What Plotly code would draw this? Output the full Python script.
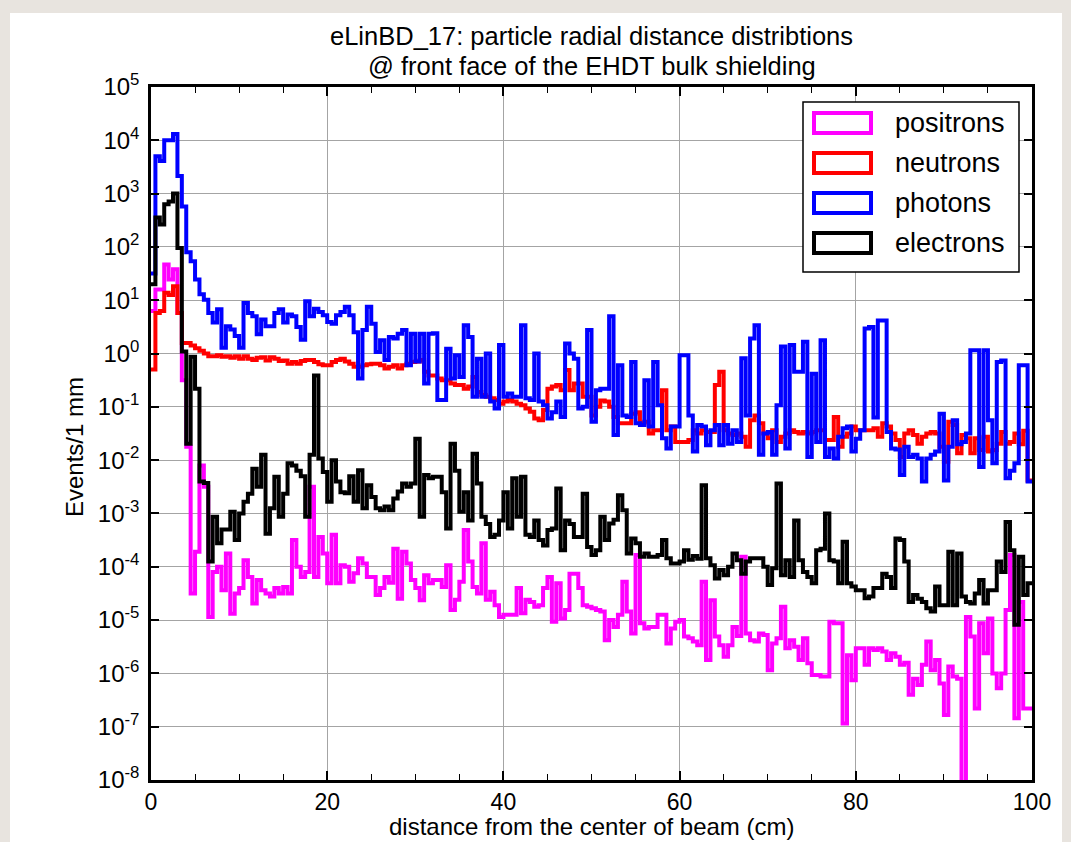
import numpy as np
import plotly.graph_objects as go

# ---------------- data (log10 of Events/1 mm, 0.5 cm bins from 0 to 100 cm) ----------------
bin_width_cm = 0.5
n_bins = 200

photons_log10 = [
    1.50, 3.70, 3.61, 4.00, 4.00, 4.12, 3.33, 2.76, 1.90, 1.73,
    1.39, 1.11, 1.01, 0.76, 0.58, 0.83, 0.11, 0.51, 0.45, 0.33,
    0.11, 0.95, 0.76, 0.70, 0.36, 0.64, 0.51, 0.51, 0.76, 0.83,
    0.58, 0.73, 0.70, 0.50, 0.26, 0.98, 0.70, 0.84, 0.78, 0.72,
    0.59, 0.56, 0.72, 0.78, 0.88, 0.72, 0.40, -0.47, 0.44, 0.88,
    0.56, 0.03, 0.25, -0.12, 0.31, 0.28, 0.37, 0.44, -0.22, 0.37,
    -0.15, 0.37, -0.56, 0.37, 0.38, -0.87, -0.87, 0.09, -0.47, -0.03,
    -0.44, 0.53, 0.31, -0.81, -0.10, -0.81, 0.00, -0.90, -1.03, 0.16,
    -0.81, -0.75, -0.81, -0.81, 0.53, -0.84, -0.87, 0.00, -0.90, -0.97,
    -1.22, -1.10, -0.90, -1.19, 0.19, 0.00, -0.10, -1.03, -1.00, 0.44,
    -1.28, -0.69, -0.66, -0.66, 0.70, -1.53, -0.22, -1.16, -1.19, -0.16,
    -1.31, -1.34, -0.50, -1.37, -0.16, -0.97, -1.59, -1.78, -1.37, -1.37,
    -0.03, -0.03, -1.16, -1.84, -1.34, -1.37, -1.72, -1.44, -1.34, -1.72,
    -1.34, -1.69, -1.44, -1.66, -0.09, -1.16, 0.28, 0.53, -1.90, -1.50,
    -1.47, -1.90, -0.97, 0.13, -1.78, 0.16, -0.34, -0.34, 0.22, -1.94,
    -0.38, -1.66, 0.25, -1.94, -1.78, -1.97, -1.56, -1.40, -1.37, -1.84,
    -1.60, -1.44, 0.47, 0.50, -1.20, 0.62, 0.62, -1.47, -1.78, -1.80,
    -2.28, -1.75, -1.94, -1.90, -1.97, -2.40, -1.97, -1.90, -1.84, -1.13,
    -2.38, -1.75, -1.25, -1.70, -1.66, -1.50, 0.06, 0.06, -2.13, 0.06,
    -1.25, -2.06, -0.16, -0.13, -2.34, -2.20, -2.06, -0.22, -0.22, -2.40,
]

neutrons_log10 = [
    -0.30, 0.76, 0.80, 1.14, 1.10, 1.26, 0.76, 0.20, 0.20, 0.15,
    0.10, 0.05, 0.00, -0.05, -0.05, -0.03, -0.06, -0.05, -0.08, -0.05,
    -0.10, -0.05, -0.10, -0.12, -0.08, -0.07, -0.13, -0.07, -0.10, -0.14,
    -0.13, -0.19, -0.16, -0.19, -0.14, -0.12, -0.12, -0.16, -0.20, -0.22,
    -0.22, -0.16, -0.12, -0.10, -0.15, -0.19, -0.25, -0.25, -0.22, -0.20,
    -0.19, -0.19, -0.22, -0.28, -0.25, -0.22, -0.28, -0.22, -0.19, -0.16,
    -0.15, -0.12, -0.34, -0.41, -0.41, -0.47, -0.50, -0.50, -0.56, -0.59,
    -0.59, -0.66, -0.62, -0.44, -0.72, -0.78, -0.81, -0.84, -0.87, -0.94,
    -0.90, -0.87, -0.90, -0.94, -0.97, -1.03, -1.09, -1.22, -1.25, -1.06,
    -0.66, -0.62, -0.59, -0.69, -0.31, -0.69, -0.56, -0.56, -0.81, -0.81,
    -1.16, -1.00, -0.88, -0.90, -1.00, -1.19, -1.31, -1.31, -1.31, -1.13,
    -1.10, -1.31, -1.28, -1.50, -1.44, -1.44, -0.69, -1.44, -1.37, -1.66,
    -1.66, -1.66, -1.62, -1.44, -1.50, -1.44, -1.47, -1.47, -0.59, -0.34,
    -1.44, -1.50, -1.53, -1.50, -1.56, -1.75, -1.25, -1.16, -1.31, -1.50,
    -1.59, -1.44, -1.66, -1.56, -1.50, -1.44, -1.47, -1.50, -1.47, -1.50,
    -1.47, -1.44, -1.44, -1.62, -1.62, -1.19, -1.75, -1.56, -1.50, -1.37,
    -1.44, -1.44, -1.44, -1.44, -1.40, -1.56, -1.31, -1.37, -1.50, -1.62,
    -1.94, -1.50, -1.44, -1.53, -1.69, -1.56, -1.50, -1.47, -1.50, -1.75,
    -2.03, -1.28, -1.34, -1.87, -1.53, -1.59, -1.87, -1.59, -1.81, -1.56,
    -1.84, -1.81, -1.69, -1.47, -1.69, -1.66, -1.50, -1.70, -1.45, -2.38,
]

electrons_log10 = [
    1.30, 2.55, 2.42, 2.80, 2.85, 3.00, 1.98, 0.04, -1.69, -0.06,
    -0.66, -2.40, -2.43, -3.90, -3.06, -3.56, -3.30, -3.30, -2.97, -3.50,
    -3.00, -2.78, -2.63, -2.16, -2.50, -1.90, -3.38, -2.90, -2.31, -3.06,
    -2.63, -2.06, -2.10, -2.20, -2.30, -3.06, -1.90, -0.41, -1.97, -2.22,
    -2.78, -2.00, -2.40, -2.60, -2.62, -2.30, -2.78, -2.19, -2.90, -2.47,
    -2.69, -2.90, -2.94, -2.87, -2.94, -2.72, -2.59, -2.44, -2.50, -2.44,
    -1.60, -3.06, -2.28, -2.34, -2.31, -2.31, -2.60, -3.28, -1.69, -2.20,
    -2.97, -2.60, -3.13, -1.88, -2.44, -3.06, -3.20, -3.44, -3.40, -3.13,
    -2.60, -3.28, -2.34, -3.06, -2.31, -3.40, -3.44, -3.13, -3.50, -3.60,
    -3.31, -3.28, -2.53, -3.69, -3.13, -3.20, -3.44, -3.44, -2.63, -3.63,
    -3.78, -3.69, -3.06, -3.50, -3.19, -3.12, -2.66, -2.94, -3.75, -3.47,
    -3.56, -3.81, -3.75, -3.81, -3.81, -3.78, -3.50, -3.84, -3.94, -3.94,
    -3.90, -3.69, -3.87, -3.80, -3.85, -2.47, -3.84, -3.97, -4.22, -4.06,
    -4.16, -4.00, -3.75, -3.88, -4.13, -3.90, -3.84, -3.84, -3.84, -4.00,
    -4.34, -4.03, -2.44, -4.16, -3.88, -4.19, -3.13, -3.88, -4.10, -4.19,
    -4.31, -3.69, -3.66, -3.00, -3.88, -3.90, -4.31, -3.53, -4.31, -4.37,
    -4.44, -4.44, -4.59, -4.56, -4.40, -4.40, -4.13, -4.19, -4.40, -3.47,
    -3.50, -3.90, -4.66, -4.53, -4.60, -4.66, -4.78, -4.84, -4.37, -4.72,
    -4.72, -3.72, -4.72, -3.75, -4.56, -4.66, -4.69, -4.50, -4.25, -4.69,
    -4.44, -4.44, -3.90, -4.10, -3.16, -3.69, -5.09, -3.81, -4.53, -4.31,
]

positrons_log10 = [
    0.80, 1.20, 1.20, 1.67, 1.39, 1.58, 0.76, -0.50, -1.75, -4.50,
    -3.72, -2.10, -2.50, -4.94, -4.10, -4.00, -4.44, -3.75, -4.88, -4.50,
    -4.40, -3.88, -4.19, -4.69, -4.25, -4.44, -4.50, -4.56, -4.40, -4.50,
    -4.38, -4.50, -3.50, -4.00, -4.19, -4.10, -2.50, -4.19, -3.44, -3.75,
    -4.31, -3.40, -4.31, -3.97, -4.00, -4.28, -4.12, -3.84, -3.94, -4.19,
    -4.19, -4.53, -4.40, -4.19, -4.30, -3.66, -4.60, -3.72, -3.94, -4.25,
    -4.40, -4.63, -4.16, -4.31, -4.25, -4.25, -4.38, -3.97, -4.81, -4.62,
    -4.28, -3.31, -3.90, -4.38, -4.50, -3.56, -4.62, -4.47, -4.72, -4.94,
    -4.90, -4.90, -4.90, -4.40, -4.87, -4.62, -4.66, -4.75, -4.72, -4.40,
    -4.19, -5.03, -4.31, -4.97, -4.81, -4.13, -4.13, -4.40, -4.72, -4.75,
    -4.78, -4.81, -4.84, -5.38, -5.00, -5.13, -4.90, -4.28, -4.84, -5.25,
    -3.78, -5.06, -5.16, -5.13, -5.13, -4.90, -4.90, -5.44, -5.16, -5.03,
    -5.00, -5.31, -5.34, -5.40, -5.47, -4.28, -5.75, -4.63, -5.31, -5.47,
    -5.69, -5.47, -5.13, -5.30, -3.81, -5.25, -5.38, -5.40, -5.25, -5.28,
    -5.94, -5.44, -5.34, -4.75, -5.53, -5.38, -5.50, -5.75, -5.34, -5.81,
    -6.03, -6.03, -6.06, -6.06, -5.03, -5.06, -5.06, -6.94, -5.66, -6.13,
    -5.53, -5.53, -5.84, -5.53, -5.56, -5.53, -5.59, -5.75, -5.62, -5.69,
    -5.84, -5.80, -6.40, -6.10, -6.22, -5.84, -5.40, -5.94, -5.75, -6.19,
    -6.78, -5.87, -6.06, -6.10, -9.00, -4.94, -5.31, -6.66, -5.06, -5.62,
    -4.97, -6.00, -6.28, -6.00, -4.81, -3.78, -6.84, -4.66, -6.66, -6.66,
]

series_names = ["positrons", "neutrons", "photons", "electrons"]
series_colors = ["#ff00ff", "#ff0000", "#0000ff", "#000000"]
series_data = [positrons_log10, neutrons_log10, photons_log10, electrons_log10]

x_tick_vals = [0, 20, 40, 60, 80, 100]
y_exponents = list(range(-8, 6))

title_lines = ["eLinBD_17: particle radial distance distribtions",
               "@ front face of the EHDT bulk shielding"]
x_title = "distance from the center of beam (cm)"
y_title = "Events/1 mm"

# ---------------- figure ----------------
W, H = 1071, 842
ML, MR, MT, MB = 151, 39, 87, 62
PW, PH = W - ML - MR, H - MT - MB
FONT = "Liberation Sans, Arial, Helvetica, sans-serif"


def px_x(p):
    return (p - ML) / PW


def px_y(p):
    return (H - MB - p) / PH


for d in series_data:
    assert len(d) == n_bins

edges = np.arange(n_bins + 1) * bin_width_cm

fig = go.Figure()
for name, color, logs in zip(series_names, series_colors, series_data):
    vals = 10.0 ** np.asarray(logs, dtype=float)
    yv = np.append(vals, vals[-1])
    fig.add_trace(go.Scatter(
        x=edges, y=yv, mode="lines", name=name,
        line=dict(color=color, width=4, shape="hv"),
        showlegend=False, hoverinfo="skip",
    ))
# empty trace on the top x axis so its ticks are drawn
fig.add_trace(go.Scatter(x=[], y=[], xaxis="x2", yaxis="y", showlegend=False, hoverinfo="skip"))

shapes = []
# white panel over beige page background
shapes.append(dict(type="rect", xref="paper", yref="paper", layer="below",
                   x0=px_x(10), x1=px_x(1062), y0=px_y(850), y1=px_y(13),
                   fillcolor="white", line=dict(width=0)))
# legend box
shapes.append(dict(type="rect", xref="paper", yref="paper", layer="above",
                   x0=px_x(803), x1=px_x(1019), y0=px_y(272), y1=px_y(102),
                   fillcolor="white", line=dict(color="black", width=1.5)))
annotations = []
legend_rows = [123, 163, 203, 243]
for name, color, yc in zip(series_names, series_colors, legend_rows):
    shapes.append(dict(type="rect", xref="paper", yref="paper", layer="above",
                       x0=px_x(814), x1=px_x(871), y0=px_y(yc + 10), y1=px_y(yc - 10),
                       fillcolor="white", line=dict(color=color, width=4)))
    annotations.append(dict(xref="paper", yref="paper", x=px_x(893), y=px_y(yc),
                            text=name, showarrow=False, xanchor="left", yanchor="middle",
                            font=dict(family=FONT, size=27, color="black")))

for line_text, yc in zip(title_lines, [36.5, 66.0]):
    annotations.append(dict(xref="paper", yref="paper", x=0.5, y=px_y(yc),
                            text=line_text, showarrow=False, xanchor="center", yanchor="middle",
                            font=dict(family=FONT, size=25.5, color="black")))

annotations.append(dict(xref="paper", yref="paper", x=0.5, y=px_y(826),
                        text=x_title, showarrow=False, xanchor="center", yanchor="middle",
                        font=dict(family=FONT, size=24, color="black")))
annotations.append(dict(xref="paper", yref="paper", x=px_x(75), y=px_y(447),
                        text=y_title, showarrow=False, textangle=-90,
                        xanchor="center", yanchor="middle",
                        font=dict(family=FONT, size=24, color="black")))

fig.update_layout(
    width=W, height=H,
    margin=dict(l=ML, r=MR, t=MT, b=MB, pad=0),
    paper_bgcolor="#e8e4df",
    plot_bgcolor="white",
    font=dict(family=FONT, size=20, color="black"),
    shapes=shapes,
    annotations=annotations,
    showlegend=False,
)

fig.update_layout(
    xaxis=dict(
        range=[0, 100], tickvals=x_tick_vals, ticktext=[str(v) for v in x_tick_vals],
        ticks="inside", ticklen=9, tickwidth=1.5, tickcolor="black",
        showgrid=True, gridcolor="#a4a4a4", gridwidth=1.4,
        showline=True, linecolor="black", linewidth=2.5, mirror=True,
        zeroline=False,
        minor=dict(dtick=5, ticks="inside", ticklen=6, tickwidth=1.2,
                   tickcolor="black", showgrid=False),
        tickfont=dict(family=FONT, size=23, color="black"),
    ),
    xaxis2=dict(
        overlaying="x", side="top", anchor="y", matches="x", range=[0, 100],
        tickvals=x_tick_vals, showticklabels=False,
        ticks="inside", ticklen=9, tickwidth=1.5, tickcolor="black",
        showgrid=False, showline=False, zeroline=False,
        minor=dict(dtick=5, ticks="inside", ticklen=6, tickwidth=1.2,
                   tickcolor="black", showgrid=False),
    ),
    yaxis=dict(
        type="log", range=[-8, 5],
        tickvals=[10.0 ** e for e in y_exponents],
        ticktext=["10<sup>%d</sup>" % e for e in y_exponents],
        ticks="inside", ticklen=8, tickwidth=1.5, tickcolor="black",
        showgrid=True, gridcolor="#a4a4a4", gridwidth=1.4,
        showline=True, linecolor="black", linewidth=2.5, mirror="ticks",
        zeroline=False, ticklabelstandoff=4,
        tickfont=dict(family=FONT, size=24, color="black"),
    ),
)

fig.write_html("out.html")
